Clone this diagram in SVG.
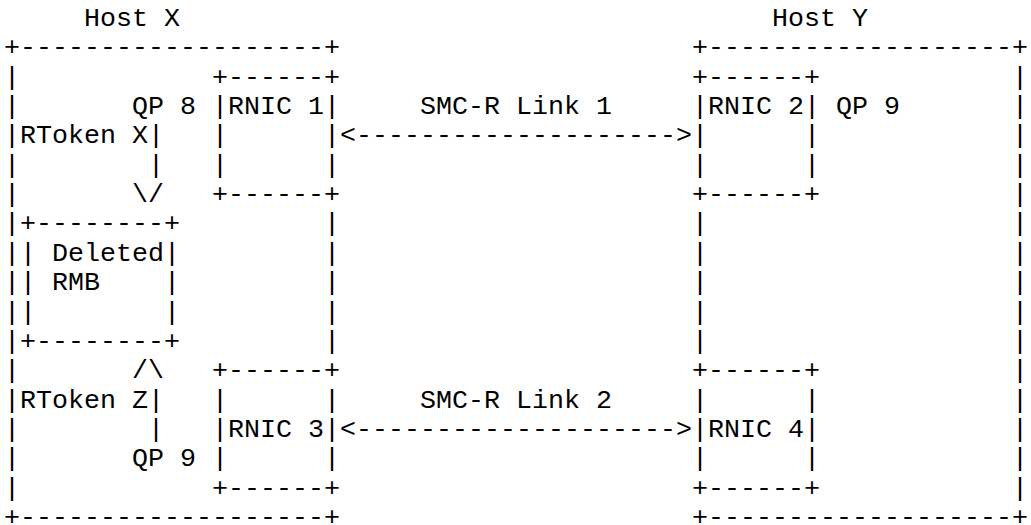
<svg xmlns="http://www.w3.org/2000/svg" width="1031" height="525" viewBox="0 0 1031 525">
<style>
text{font-family:"Liberation Mono","Courier New",monospace;font-size:26.67px;fill:#000;white-space:pre}
</style>
<rect width="1031" height="525" fill="#fff"/>
<g id="hostX">
<text x="84" y="26">Host X</text>
<text x="4" y="55.35">+-------------------+</text>
<text x="4" y="84.7">|</text><text x="4" y="114.05">|</text><text x="4" y="143.4">|</text><text x="4" y="172.75">|</text><text x="4" y="202.1">|</text><text x="4" y="231.45">|</text><text x="4" y="260.8">|</text><text x="4" y="290.15">|</text><text x="4" y="319.5">|</text><text x="4" y="348.85">|</text><text x="4" y="378.2">|</text><text x="4" y="407.55">|</text><text x="4" y="436.9">|</text><text x="4" y="466.25">|</text><text x="4" y="495.6">|</text>
<text x="324" y="231.45">|</text><text x="324" y="260.8">|</text><text x="324" y="290.15">|</text><text x="324" y="319.5">|</text><text x="324" y="348.85">|</text>
<text x="4" y="524.95">+-------------------+</text>
</g>
<g id="rnic1">
<text x="212" y="84.7">+------+</text>
<text x="212" y="114.05">|RNIC 1|</text>
<text x="212" y="143.4">|</text><text x="324" y="143.4">|</text>
<text x="212" y="172.75">|</text><text x="324" y="172.75">|</text>
<text x="212" y="202.1">+------+</text>
</g>
<g id="rmb">
<text x="20" y="231.45">+--------+</text>
<text x="20" y="260.8">|</text><text x="52" y="260.8">Deleted</text><text x="164" y="260.8">|</text>
<text x="20" y="290.15">|</text><text x="52" y="290.15">RMB</text><text x="164" y="290.15">|</text>
<text x="20" y="319.5">|</text><text x="164" y="319.5">|</text>
<text x="20" y="348.85">+--------+</text>
</g>
<g id="rnic3">
<text x="212" y="378.2">+------+</text>
<text x="212" y="407.55">|</text><text x="324" y="407.55">|</text>
<text x="212" y="436.9">|RNIC 3|</text>
<text x="212" y="466.25">|</text><text x="324" y="466.25">|</text>
<text x="212" y="495.6">+------+</text>
</g>
<g id="hostY">
<text x="772" y="26">Host Y</text>
<text x="692" y="55.35">+-------------------+</text>
<text x="1012" y="84.7">|</text><text x="1012" y="114.05">|</text><text x="1012" y="143.4">|</text><text x="1012" y="172.75">|</text><text x="1012" y="202.1">|</text><text x="1012" y="231.45">|</text><text x="1012" y="260.8">|</text><text x="1012" y="290.15">|</text><text x="1012" y="319.5">|</text><text x="1012" y="348.85">|</text><text x="1012" y="378.2">|</text><text x="1012" y="407.55">|</text><text x="1012" y="436.9">|</text><text x="1012" y="466.25">|</text><text x="1012" y="495.6">|</text>
<text x="692" y="231.45">|</text><text x="692" y="260.8">|</text><text x="692" y="290.15">|</text><text x="692" y="319.5">|</text><text x="692" y="348.85">|</text>
<text x="692" y="524.95">+-------------------+</text>
</g>
<g id="rnic2">
<text x="692" y="84.7">+------+</text>
<text x="692" y="114.05">|RNIC 2|</text>
<text x="836" y="114.05">QP 9</text>
<text x="692" y="143.4">|</text><text x="804" y="143.4">|</text>
<text x="692" y="172.75">|</text><text x="804" y="172.75">|</text>
<text x="692" y="202.1">+------+</text>
</g>
<g id="rnic4">
<text x="692" y="378.2">+------+</text>
<text x="692" y="407.55">|</text><text x="804" y="407.55">|</text>
<text x="692" y="436.9">|RNIC 4|</text>
<text x="692" y="466.25">|</text><text x="804" y="466.25">|</text>
<text x="692" y="495.6">+------+</text>
</g>
<g id="connectors">
<text x="420" y="114.05">SMC-R Link 1</text>
<text x="340" y="143.4">&lt;--------------------&gt;</text>
<text x="420" y="407.55">SMC-R Link 2</text>
<text x="340" y="436.9">&lt;--------------------&gt;</text>
<text x="132" y="114.05">QP 8</text>
<text x="20" y="143.4">RToken X</text>
<text x="148" y="143.4">|</text>
<text x="148" y="172.75">|</text>
<text x="132" y="202.1">\/</text>
<text x="132" y="378.2">/\</text>
<text x="20" y="407.55">RToken Z</text>
<text x="148" y="407.55">|</text>
<text x="148" y="436.9">|</text>
<text x="132" y="466.25">QP 9</text>
</g>
</svg>
